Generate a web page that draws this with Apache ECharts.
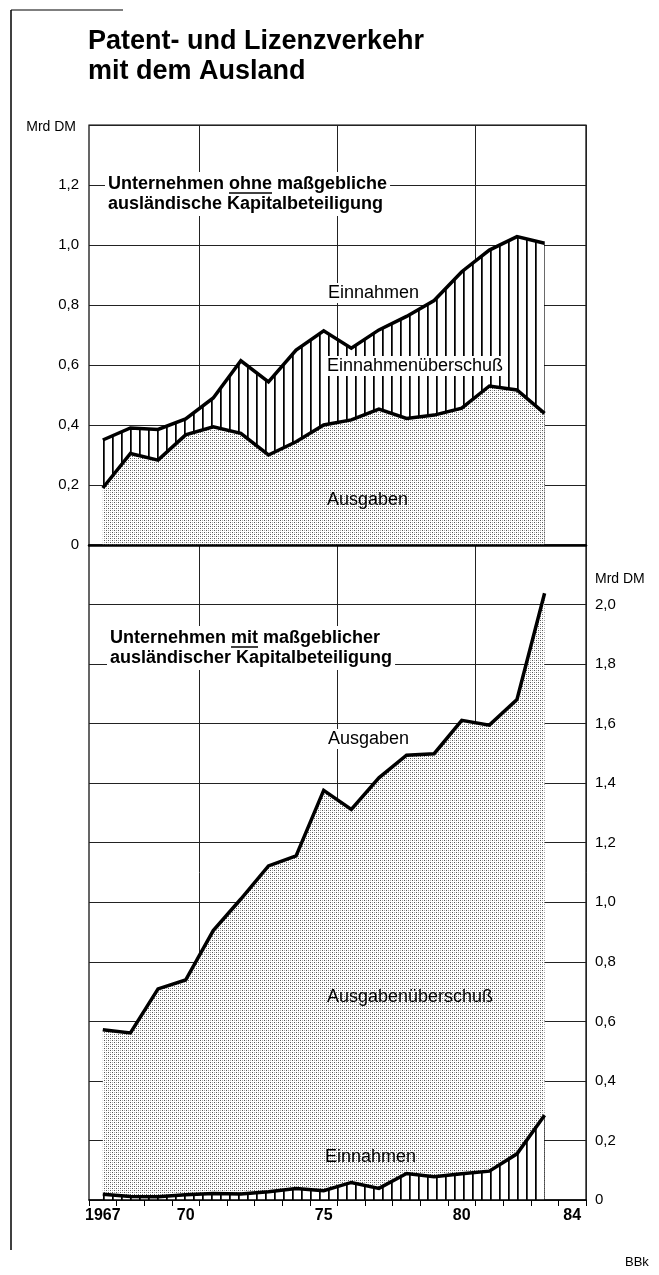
<!DOCTYPE html>
<html><head><meta charset="utf-8">
<script src="https://cdn.jsdelivr.net/npm/echarts@6/dist/echarts.min.js"></script>
<style>html,body{margin:0;padding:0;background:#fff}#c{width:659px;height:1275px}</style>
</head><body><div id="c"></div>
<script>
// ---- data ----
const years = ['1967','1968','1969','1970','1971','1972','1973','1974','1975','1976','1977','1978','1979','1980','1981','1982','1983','1984'];
const yearLabels = {'1967':'1967','1970':'70','1975':'75','1980':'80','1984':'84'};
// Unternehmen ohne maßgebliche ausländische Kapitalbeteiligung (Mrd DM)
const ohneEinnahmen = [0.35,0.39,0.385,0.42,0.49,0.614,0.544,0.65,0.714,0.656,0.717,0.762,0.815,0.911,0.983,1.028,1.006];
const ohneAusgaben  = [0.19,0.305,0.283,0.367,0.394,0.372,0.30,0.344,0.40,0.417,0.453,0.422,0.433,0.456,0.53,0.517,0.439];
// Unternehmen mit maßgeblicher ausländischer Kapitalbeteiligung (Mrd DM)
const mitAusgaben   = [0.572,0.561,0.709,0.739,0.905,1.011,1.122,1.156,1.376,1.312,1.418,1.494,1.499,1.611,1.595,1.681,2.038];
const mitEinnahmen  = [0.019,0.012,0.011,0.018,0.022,0.020,0.028,0.039,0.031,0.059,0.039,0.089,0.078,0.088,0.097,0.155,0.285];
const gridYears = ['1971','1976','1981']; // vertical grid lines at the start of these years

const FONT = '"Liberation Sans", Arial, Helvetica, sans-serif';

function stippleCanvas(){
  const c=document.createElement('canvas'); c.width=4; c.height=4;
  const g=c.getContext('2d');
  g.fillStyle='#fff'; g.fillRect(0,0,4,4);
  g.fillStyle='#555'; g.fillRect(0,0,1,1); g.fillRect(2,2,1,1);
  g.fillStyle='#aaa'; g.fillRect(2,0,1,1); g.fillRect(0,2,1,1);
  return c;
}
function hatchCanvas(){
  const c=document.createElement('canvas'); c.width=9; c.height=4;
  const g=c.getContext('2d');
  g.fillStyle='#fff'; g.fillRect(0,0,9,4);
  g.fillStyle='#000'; g.fillRect(4,0,1,4);
  g.fillStyle='#444'; g.fillRect(5,0,1,4);
  return c;
}
const stipple = {image: stippleCanvas(), repeat:'repeat'};
const hatch = {image: hatchCanvas(), repeat:'repeat'};

const mctx = document.createElement('canvas').getContext('2d');
function tw(text, font){ mctx.font = font; return mctx.measureText(text).width; }

const fmt = (v, maxShown) => v > maxShown + 1e-9 ? '' : (v === 0 ? '0' : v.toFixed(1).replace('.', ','));
const splitInterval = (i, v) => gridYears.indexOf(v) >= 0;

const PT = 'bold 18px ' + FONT;
const T1X = 105, T1Y = 172, T2X = 107, T2Y = 626;
const ohneX = T1X + 3 + tw('Unternehmen ', PT), ohneW = tw('ohne', PT);
const mitX = T2X + 3 + tw('Unternehmen ', PT), mitW = tw('mit', PT);

const hidden = {axisLine:{show:false}, axisTick:{show:false}, axisLabel:{show:false}};
const gridSplit = {show:true, interval:splitInterval, lineStyle:{color:'#222', width:1}};

const chart = echarts.init(document.getElementById('c'), null, {renderer:'canvas'});
chart.setOption({
  animation:false,
  backgroundColor:'#fff',
  grid:[
    {left:89, top:125, width:497, height:420, show:true, borderColor:'#000', borderWidth:1.2, backgroundColor:'rgba(0,0,0,0)'},
    {left:89, top:545, width:497, height:655, show:true, borderColor:'#000', borderWidth:1.2, backgroundColor:'rgba(0,0,0,0)'}
  ],
  xAxis:[
    {gridIndex:0, type:'category', data:years, boundaryGap:true, position:'bottom', z:10,
     axisLine:{show:true, lineStyle:{color:'#000', width:2.5}},
     axisTick:{show:false}, axisLabel:{show:false}, splitLine:{show:false}},
    Object.assign({gridIndex:0, type:'category', data:years, boundaryGap:true, position:'top', z:0, splitLine:gridSplit}, hidden),
    {gridIndex:1, type:'category', data:years, boundaryGap:true, position:'bottom', z:10,
     axisLine:{show:true, lineStyle:{color:'#000', width:1.5}},
     axisTick:{show:true, interval:0, length:6, lineStyle:{color:'#000', width:1}},
     axisLabel:{interval:(i,v)=> v in yearLabels, formatter:v=>yearLabels[v]||'', fontWeight:'bold', fontSize:16, color:'#000', fontFamily:FONT, margin:8},
     splitLine:{show:false}},
    Object.assign({gridIndex:1, type:'category', data:years, boundaryGap:true, position:'top', z:0, splitLine:gridSplit}, hidden)
  ],
  yAxis:[
    {gridIndex:0, type:'value', min:0, max:1.4, interval:0.2, position:'left',
     axisLine:{show:false}, axisTick:{show:false},
     axisLabel:{formatter:v=>fmt(v,1.2), fontSize:15, color:'#000', fontFamily:FONT, margin:10},
     splitLine:{show:true, lineStyle:{color:'#222', width:1}}},
    {gridIndex:1, type:'value', min:0, max:2.2, interval:0.2, position:'right',
     axisLine:{show:false}, axisTick:{show:false},
     axisLabel:{formatter:v=>fmt(v,2.0), fontSize:15, color:'#000', fontFamily:FONT, margin:9, align:'left'},
     splitLine:{show:true, lineStyle:{color:'#222', width:1}}}
  ],
  series:[
    {name:'Einnahmen (ohne)', type:'line', xAxisIndex:0, yAxisIndex:0, data:ohneEinnahmen, symbol:'none',
     lineStyle:{color:'#000', width:3.5, join:'miter'}, areaStyle:{color:hatch, opacity:1}, z:2},
    {name:'Ausgaben (ohne)', type:'line', xAxisIndex:0, yAxisIndex:0, data:ohneAusgaben, symbol:'none',
     lineStyle:{color:'#000', width:3.5, join:'miter'}, areaStyle:{color:stipple, opacity:1}, z:3},
    {name:'Ausgaben (mit)', type:'line', xAxisIndex:2, yAxisIndex:1, data:mitAusgaben, symbol:'none',
     lineStyle:{color:'#000', width:3.5, join:'miter'}, areaStyle:{color:stipple, opacity:1}, z:2},
    {name:'Einnahmen (mit)', type:'line', xAxisIndex:2, yAxisIndex:1, data:mitEinnahmen, symbol:'none',
     lineStyle:{color:'#000', width:3.5, join:'miter'}, areaStyle:{color:hatch, opacity:1}, z:3}
  ],
  graphic:[
    {type:'line', z:100, shape:{x1:11, y1:10, x2:11, y2:1250}, style:{stroke:'#000', lineWidth:1.5}},
    {type:'line', z:100, shape:{x1:11, y1:10, x2:123, y2:10}, style:{stroke:'#000', lineWidth:1.2}},
    {type:'text', z:100, x:88, y:42, style:{text:'Patent- und Lizenzverkehr', font:'bold 27px '+FONT, fill:'#000', align:'left', verticalAlign:'middle'}},
    {type:'text', z:100, x:88, y:72, style:{text:'mit dem Ausland', font:'bold 27px '+FONT, fill:'#000', align:'left', verticalAlign:'middle'}},
    {type:'text', z:100, x:76, y:127, style:{text:'Mrd DM', font:'14px '+FONT, fill:'#000', align:'right', verticalAlign:'middle'}},
    {type:'text', z:100, x:595, y:579, style:{text:'Mrd DM', font:'14px '+FONT, fill:'#000', align:'left', verticalAlign:'middle'}},
    {type:'text', z:100, x:T1X, y:T1Y, style:{text:'Unternehmen ohne maßgebliche\nausländische Kapitalbeteiligung', font:PT, lineHeight:20, fill:'#000', align:'left', verticalAlign:'top', backgroundColor:'#fff', padding:[2,3,2,3]}},
    {type:'line', z:101, shape:{x1:ohneX, y1:T1Y+21, x2:ohneX+ohneW, y2:T1Y+21}, style:{stroke:'#000', lineWidth:1.5}},
    {type:'text', z:100, x:T2X, y:T2Y, style:{text:'Unternehmen mit maßgeblicher\nausländischer Kapitalbeteiligung', font:PT, lineHeight:20, fill:'#000', align:'left', verticalAlign:'top', backgroundColor:'#fff', padding:[2,3,2,3]}},
    {type:'line', z:101, shape:{x1:mitX, y1:T2Y+21, x2:mitX+mitW, y2:T2Y+21}, style:{stroke:'#000', lineWidth:1.5}},
    {type:'text', z:100, x:326, y:293, style:{text:'Einnahmen', font:'18px '+FONT, fill:'#000', align:'left', verticalAlign:'middle', backgroundColor:'#fff', padding:[1,2]}},
    {type:'text', z:100, x:325, y:366, style:{text:'Einnahmenüberschuß', font:'18px '+FONT, fill:'#000', align:'left', verticalAlign:'middle', backgroundColor:'#fff', padding:[1,2]}},
    {type:'text', z:100, x:327, y:500, style:{text:'Ausgaben', font:'18px '+FONT, fill:'#000', align:'left', verticalAlign:'middle'}},
    {type:'text', z:100, x:326, y:739, style:{text:'Ausgaben', font:'18px '+FONT, fill:'#000', align:'left', verticalAlign:'middle', backgroundColor:'#fff', padding:[1,2]}},
    {type:'text', z:100, x:327, y:997, style:{text:'Ausgabenüberschuß', font:'18px '+FONT, fill:'#000', align:'left', verticalAlign:'middle'}},
    {type:'text', z:100, x:325, y:1157, style:{text:'Einnahmen', font:'18px '+FONT, fill:'#000', align:'left', verticalAlign:'middle'}},
    {type:'text', z:100, x:625, y:1262, style:{text:'BBk', font:'13px '+FONT, fill:'#000', align:'left', verticalAlign:'middle'}}
  ]
});
</script></body></html>
